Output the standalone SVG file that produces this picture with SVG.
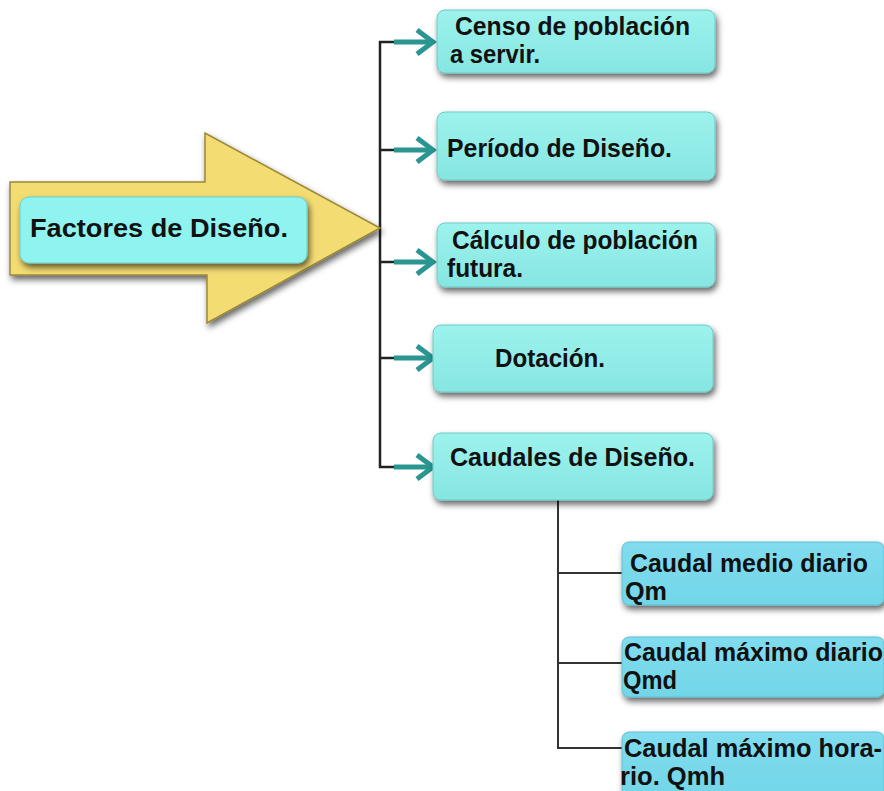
<svg xmlns="http://www.w3.org/2000/svg" width="884" height="791" viewBox="0 0 884 791">
<defs>
<filter id="sh" x="-20%" y="-30%" width="140%" height="170%">
<feDropShadow dx="2" dy="4" stdDeviation="3" flood-color="#000" flood-opacity="0.6"/>
</filter>
<linearGradient id="gm" x1="0" y1="0" x2="0" y2="1">
<stop offset="0" stop-color="#9df2ec"/>
<stop offset="1" stop-color="#86e6e2"/>
</linearGradient>
<linearGradient id="gs" x1="0" y1="0" x2="0" y2="1">
<stop offset="0" stop-color="#80dcee"/>
<stop offset="1" stop-color="#72d6e8"/>
</linearGradient>
<style>
.t{font-family:"Liberation Sans",Arial,sans-serif;font-weight:bold;font-size:25px;fill:#111;}
.box{fill:url(#gm);stroke:#6fcac6;stroke-width:1;filter:url(#sh);}
.sub{fill:url(#gs);stroke:#5fbfd2;stroke-width:1;filter:url(#sh);}
.blk{stroke:#222;stroke-width:2.5;fill:none;}
.tl{stroke:#2a9692;stroke-width:5;fill:none;stroke-linecap:butt;}
</style>
</defs>
<rect width="884" height="791" fill="#fff"/>

<g id="connectors">
<polyline class="blk" points="395,42 380,42 380,467 395,467"/>
<line class="blk" x1="380" y1="150" x2="395" y2="150"/>
<line class="blk" x1="380" y1="262" x2="395" y2="262"/>
<line class="blk" x1="380" y1="358" x2="395" y2="358"/>
<g class="tl">
<line x1="394" y1="42" x2="431" y2="42"/><polyline points="417,30 433,42 417,54"/>
<line x1="394" y1="150" x2="431" y2="150"/><polyline points="417,138 433,150 417,162"/>
<line x1="394" y1="262" x2="431" y2="262"/><polyline points="417,250 433,262 417,274"/>
<line x1="394" y1="358" x2="431" y2="358"/><polyline points="417,346 433,358 417,370"/>
<line x1="394" y1="467" x2="431" y2="467"/><polyline points="417,455 433,467 417,479"/>
</g>
<polyline points="558,500 558,748 622,748" stroke="#333" stroke-width="2" fill="none"/>
<line x1="558" y1="573" x2="622" y2="573" stroke="#333" stroke-width="2"/>
<line x1="558" y1="663" x2="622" y2="663" stroke="#333" stroke-width="2"/>
</g>

<g id="factores">
<polygon points="10,182 205,182 205,133 380,228 207,323 207,275 10,275" fill="#f3dc72" stroke="#9a8838" stroke-width="1.5" filter="url(#sh)"/>
<rect x="20" y="197" width="287" height="66" rx="9" fill="#8ff4ef" stroke="#6cd0cc" filter="url(#sh)"/>
<text class="t" x="30" y="237" textLength="258" lengthAdjust="spacingAndGlyphs">Factores de Diseño.</text>
</g>

<g id="censo">
<rect class="box" x="437" y="10" width="278" height="63" rx="8"/>
<text class="t" x="455" y="35" textLength="235" lengthAdjust="spacingAndGlyphs">Censo de población</text>
<text class="t" x="450" y="63" textLength="90" lengthAdjust="spacingAndGlyphs">a servir.</text>
</g>

<g id="periodo">
<rect class="box" x="437" y="112" width="278" height="68" rx="8"/>
<text class="t" x="447" y="157" textLength="225" lengthAdjust="spacingAndGlyphs">Período de Diseño.</text>
</g>

<g id="calculo">
<rect class="box" x="437" y="223" width="278" height="64" rx="8"/>
<text class="t" x="452" y="249" textLength="246" lengthAdjust="spacingAndGlyphs">Cálculo de población</text>
<text class="t" x="447" y="277" textLength="76" lengthAdjust="spacingAndGlyphs">futura.</text>
</g>

<g id="dotacion">
<rect class="box" x="433" y="325" width="280" height="67" rx="8"/>
<text class="t" x="495" y="367" textLength="110" lengthAdjust="spacingAndGlyphs">Dotación.</text>
</g>

<g id="caudales">
<rect class="box" x="433" y="433" width="280" height="67" rx="8"/>
<text class="t" x="450" y="466" textLength="245" lengthAdjust="spacingAndGlyphs">Caudales de Diseño.</text>
</g>

<g id="qm">
<rect class="sub" x="622" y="542" width="262" height="63" rx="7"/>
<text class="t" x="630" y="572" textLength="238" lengthAdjust="spacingAndGlyphs">Caudal medio diario</text>
<text class="t" x="625" y="600" textLength="42" lengthAdjust="spacingAndGlyphs">Qm</text>
</g>

<g id="qmd">
<rect class="sub" x="622" y="637" width="262" height="60" rx="7"/>
<text class="t" x="624" y="661" textLength="259" lengthAdjust="spacingAndGlyphs">Caudal máximo diario</text>
<text class="t" x="623" y="689" textLength="54" lengthAdjust="spacingAndGlyphs">Qmd</text>
</g>

<g id="qmh">
<rect class="sub" x="622" y="732" width="262" height="66" rx="7"/>
<text class="t" x="624" y="757" textLength="258" lengthAdjust="spacingAndGlyphs">Caudal máximo hora-</text>
<text class="t" x="620" y="785" textLength="105" lengthAdjust="spacingAndGlyphs">rio. Qmh</text>
</g>
</svg>
